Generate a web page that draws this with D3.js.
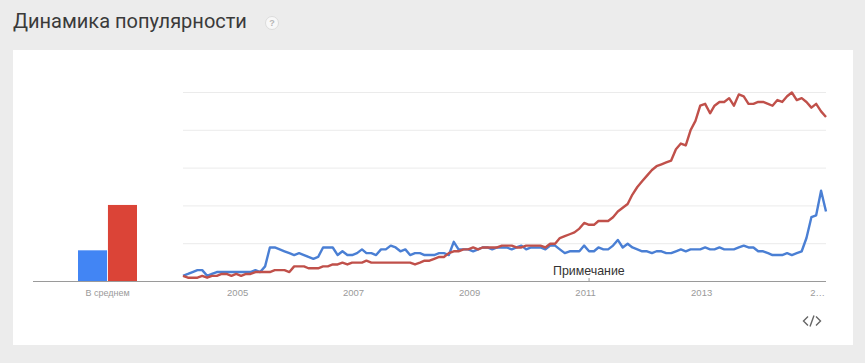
<!DOCTYPE html>
<html>
<head>
<meta charset="utf-8">
<style>
    html, body { margin: 0; padding: 0; background: #ececec; overflow: hidden; }
</style>
<script src="https://cdn.jsdelivr.net/npm/d3@7"></script>
</head>
<body>
<div class="canvas"></div>
<script>
// Monthly values, Jan 2004 - Feb 2015
const blueValues = [
    3, 4, 5, 6, 6, 3, 4, 5, 5, 5, 5, 5,
    5, 5, 5, 6, 5, 8, 18, 18, 17, 16, 15, 14,
    15, 14, 13, 12, 13, 18, 18, 18, 14, 16, 14, 14,
    15, 17, 15, 15, 14, 17, 17, 19, 18, 16, 17, 14,
    15, 15, 14, 14, 14, 15, 15, 14, 21, 17, 17, 17,
    16, 17, 18, 18, 17, 18, 18, 18, 17, 18, 19, 17,
    18, 18, 18, 17, 19, 19, 17, 15, 16, 16, 16, 19,
    16, 16, 18, 17, 17, 19, 22, 18, 20, 18, 17, 16,
    16, 15, 16, 16, 15, 15, 16, 17, 16, 17, 17, 17,
    18, 17, 17, 18, 17, 17, 17, 18, 19, 18, 18, 16,
    16, 15, 14, 14, 14, 15, 14, 15, 16, 23, 34, 35,
    48, 37
];
const redValues = [
    3, 2, 2, 2, 3, 2, 3, 3, 4, 4, 3, 4,
    3, 4, 4, 5, 5, 5, 5, 6, 6, 6, 5, 8,
    8, 8, 7, 7, 7, 8, 8, 9, 9, 10, 9, 10,
    10, 10, 11, 10, 10, 10, 10, 10, 10, 10, 10, 10,
    9, 10, 11, 11, 12, 13, 13, 15, 16, 16, 17, 17,
    18, 17, 18, 18, 18, 18, 19, 19, 19, 18, 18, 19,
    19, 19, 19, 18, 20, 20, 23, 24, 25, 26, 28, 31,
    30, 30, 32, 32, 32, 34, 37, 39, 41, 46, 50, 53,
    56, 59, 61, 62, 63, 64, 70, 73, 72, 80, 85, 93,
    94, 89, 93, 95, 95, 97, 93, 99, 98, 94, 94, 95,
    95, 94, 93, 96, 95, 98, 100, 96, 97, 95, 92, 94,
    90, 87
];
const averageKeys = ['blue', 'red'];
const averageValues = [16.5, 40.5];
const averageLabel = 'В среднем';
const yTicks = [0, 20, 40, 60, 80, 100];
const xTickYears = [2005, 2007, 2009, 2011, 2013, 2015];
const xTickLabels = ['2005', '2007', '2009', '2011', '2013', '2…'];
const titleText = 'Динамика популярности';
const noteText = 'Примечание';
const noteDate = new Date(2011, 0, 1);

const months = blueValues.map((d, i) => new Date(2004, i, 1));
const colors = { blue: '#4285f4', red: '#db4437', blueLine: '#4a7fd4', redLine: '#c0504a' };

const svg = d3.select('.canvas')
    .append('svg')
        .attr('width', 865)
        .attr('height', 363)
        .style('display', 'block');

// Title and help badge
svg.append('text')
    .attr('x', 13)
    .attr('y', 28)
    .text(titleText)
    .style('font', '20px Roboto')
    .attr('fill', '#3a3a3a');

svg.append('circle')
    .attr('cx', 272)
    .attr('cy', 23)
    .attr('r', 6.5)
    .attr('fill', '#f8f8f8')
    .attr('stroke', '#dcdcdc');

svg.append('text')
    .attr('x', 272)
    .attr('y', 26)
    .attr('text-anchor', 'middle')
    .text('?')
    .style('font', 'bold 9px "Liberation Sans"')
    .attr('fill', '#b5b5b5');

// White card
svg.append('rect')
    .attr('x', 13)
    .attr('y', 50)
    .attr('width', 840)
    .attr('height', 295)
    .attr('fill', '#ffffff');

// Scales
const y = d3.scaleLinear()
    .domain([0, 100])
    .range([281.5, 92.5]);

const x = d3.scaleTime()
    .domain([months[0], months[months.length - 1]])
    .range([183, 826]);

const band = d3.scaleBand()
    .domain(averageKeys)
    .range([78, 137])
    .paddingInner(0.03);

// Gridlines
svg.append('g')
    .selectAll('line')
    .data(yTicks.slice(1))
    .enter()
    .append('line')
        .attr('x1', 183)
        .attr('x2', 826)
        .attr('y1', d => y(d))
        .attr('y2', d => y(d))
        .attr('stroke', '#ebebeb');

// Average bars
svg.append('g')
    .selectAll('rect')
    .data(averageKeys)
    .enter()
    .append('rect')
        .attr('x', d => band(d))
        .attr('y', (d, i) => y(averageValues[i]))
        .attr('width', band.bandwidth())
        .attr('height', (d, i) => y(0) - y(averageValues[i]))
        .attr('fill', d => colors[d]);

// Lines, red is on top
const line = d3.line()
    .x((d, i) => x(months[i]))
    .y(d => y(d));

svg.append('path')
    .attr('d', line(blueValues))
    .attr('fill', 'none')
    .attr('stroke', colors.blueLine)
    .attr('stroke-width', 2.4)
    .attr('stroke-linejoin', 'round');

svg.append('path')
    .attr('d', line(redValues))
    .attr('fill', 'none')
    .attr('stroke', colors.redLine)
    .attr('stroke-width', 2.4)
    .attr('stroke-linejoin', 'round');

// Baseline
svg.append('line')
    .attr('x1', 33)
    .attr('x2', 826)
    .attr('y1', y(0))
    .attr('y2', y(0))
    .attr('stroke', '#9a9a9a');

// X axis, labels sit a little left of the January they mark
const xAxis = d3.axisBottom(x)
    .tickValues(xTickYears.map(d => new Date(d, 0, 1)))
    .tickFormat((d, i) => xTickLabels[i])
    .tickSize(0)
    .tickPadding(8);

const xAxisGroup = svg.append('g')
    .attr('transform', `translate(0, ${y(0)})`)
    .call(xAxis);

xAxisGroup.select('.domain').remove();

xAxisGroup.selectAll('text')
    .attr('dx', -4)
    .style('font', '9.5px "Liberation Sans"')
    .attr('fill', '#9a9a9a');

svg.append('text')
    .attr('x', band.range()[0] + (band.range()[1] - band.range()[0]) / 2)
    .attr('y', 296)
    .attr('text-anchor', 'middle')
    .text(averageLabel)
    .style('font', '9px "Liberation Sans"')
    .attr('fill', '#9a9a9a');

// Annotation with its small tick
svg.append('text')
    .attr('x', 553)
    .attr('y', 275)
    .text(noteText)
    .style('font', '12.4px "Liberation Sans"')
    .attr('fill', '#333333');

svg.append('line')
    .attr('x1', x(noteDate))
    .attr('x2', x(noteDate))
    .attr('y1', 278)
    .attr('y2', 281)
    .attr('stroke', '#9a9a9a');

// Embed icon
svg.append('path')
    .attr('d', 'M808 316.5 L803.5 321 L808 325.5 M816 316.5 L820.5 321 L816 325.5 M814 315.5 L810 326.5')
    .attr('fill', 'none')
    .attr('stroke', '#666666')
    .attr('stroke-width', 1.4);
</script>
</body>
</html>
